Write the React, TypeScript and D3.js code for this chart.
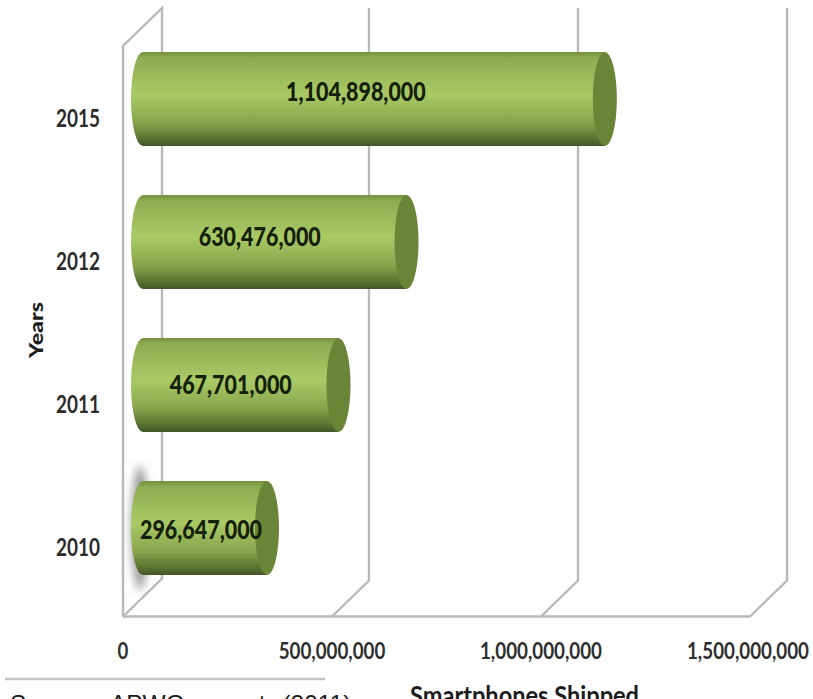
import React from "react";
import * as d3 from "d3";

const years = ["2015", "2012", "2011", "2010"];
const shipped = [1104898000, 630476000, 467701000, 296647000];
const axisTicks = [0, 500000000, 1000000000, 1500000000];
const xTitle = "Smartphones Shipped";
const yTitle = "Years";
const sourceNote = "Source: APWG report (2011)";

// Hand placement of the value labels relative to the middle of each bar.
const labelShiftX = [-18, -15, -10, -4];
const labelShiftY = [-7, -5, 0, 2];

const WIDTH = 813;
const HEIGHT = 699;
const DEPTH_X = 38;
const DEPTH_Y = 38;
const FLOOR_Y = 616.5;
const TOP_Y = 46;
const FRONT_X0 = 123;
const FRONT_X1 = 750;

// Front-plane value scale; the back wall is the same scale shifted by the depth.
const x = d3.scaleLinear().domain([0, 1500000000]).range([FRONT_X0, FRONT_X1]);
const y = d3.scaleBand<string>().domain(years).range([52, 575]).paddingInner(0.3427).paddingOuter(0);
const fmt = d3.format(",");
const FONT = "Lato, 'Open Sans', sans-serif";
const GRID = "#b9b9b9";
const RX = 12;

// Lato runs wider than the condensed bold face of the labels, so text is fitted to this width.
function fitted(s: string, size: number, squeeze: number) {
  const digits = s.replace(/\D/g, "").length;
  const commas = s.length - digits;
  return (digits * 0.58 + commas * 0.25) * size * squeeze;
}

function Cylinder({ year, value, i }: { year: string; value: number; i: number }) {
  const top = y(year)!;
  const h = y.bandwidth();
  const x0 = x(0) + DEPTH_X / 2 + 1;
  const x1 = x(value) + DEPTH_X / 2 + 1;
  const ry = h / 2;
  const body = `M${x1},${top}L${x0},${top}A${RX},${ry} 0 0 0 ${x0},${top + h}L${x1},${top + h}Z`;
  const label = fmt(value);
  return (
    <g>
      <path d={body} fill="url(#barBody)" />
      <ellipse cx={x1} cy={top + ry} rx={RX} ry={ry} fill="#6a8438" />
      <text
        x={(x0 + x1) / 2 + labelShiftX[i]}
        y={top + ry + labelShiftY[i]}
        dy="0.35em"
        textAnchor="middle"
        fontFamily={FONT}
        fontWeight={900}
        fontSize={27}
        fill="#14200c"
        textLength={fitted(label, 27, 0.79)}
        lengthAdjust="spacingAndGlyphs"
      >
        {label}
      </text>
    </g>
  );
}

export default function App() {
  return (
    <svg
      width={WIDTH}
      height={HEIGHT}
      viewBox={`0 0 ${WIDTH} ${HEIGHT}`}
      style={{ position: "absolute", left: 0, top: 0, background: "#fff" }}
    >
      <defs>
        <linearGradient id="barBody" x1="0" y1="0" x2="0" y2="1">
          <stop offset="0" stopColor="#76903f" />
          <stop offset="0.06" stopColor="#8eab51" />
          <stop offset="0.45" stopColor="#aaca66" />
          <stop offset="0.75" stopColor="#87a44c" />
          <stop offset="0.93" stopColor="#58702f" />
          <stop offset="1" stopColor="#42552a" />
        </linearGradient>
        <filter id="smudge" x="-150%" y="-20%" width="400%" height="140%">
          <feGaussianBlur stdDeviation="4" />
        </filter>
      </defs>

      {/* Side wall and floor of the 3D plot box */}
      <g fill="none" stroke={GRID} strokeWidth={2.4}>
        <path d={`M${FRONT_X0},${FLOOR_Y}V${TOP_Y}L${FRONT_X0 + DEPTH_X + 1},${TOP_Y - DEPTH_Y}V${FLOOR_Y - DEPTH_Y}L${FRONT_X0},${FLOOR_Y}`} />
        <line x1={FRONT_X0} x2={FRONT_X1} y1={FLOOR_Y} y2={FLOOR_Y} />
        {axisTicks.slice(1).map((t) => (
          <path key={t} d={`M${x(t)},${FLOOR_Y}L${x(t) + DEPTH_X - 1},${FLOOR_Y - DEPTH_Y + 2}V${TOP_Y - DEPTH_Y}`} />
        ))}
      </g>

      {/* Grey smudge behind the lowest bar */}
      <ellipse cx={140} cy={528} rx={9} ry={62} fill="#858585" opacity={0.8} filter="url(#smudge)" />

      {years.map((yr, i) => (
        <Cylinder key={yr} year={yr} value={shipped[i]} i={i} />
      ))}

      {/* Category labels */}
      <g fontFamily={FONT} fontWeight={700} fontSize={24} fill="#2b2b2b" textAnchor="middle">
        {years.map((yr) => (
          <text
            key={yr}
            x={78}
            y={y(yr)! + y.bandwidth() / 2 + 28}
            textLength={44}
            lengthAdjust="spacingAndGlyphs"
          >
            {yr}
          </text>
        ))}
      </g>

      {/* Value axis labels */}
      <g fontFamily={FONT} fontWeight={700} fontSize={23} fill="#2f2f2f" textAnchor="middle">
        {axisTicks.map((t) => (
          <text
            key={t}
            x={x(t) - (t === 1500000000 ? 2 : 0)}
            y={659}
            textLength={fitted(fmt(t), 23, 0.81)}
            lengthAdjust="spacingAndGlyphs"
          >
            {fmt(t)}
          </text>
        ))}
      </g>

      <text
        transform="translate(43,330) rotate(-90)"
        textAnchor="middle"
        fontFamily={FONT}
        fontWeight={900}
        fontSize={18}
        fill="#1c1c1c"
        textLength={56}
        lengthAdjust="spacingAndGlyphs"
      >
        {yTitle}
      </text>
      <text
        x={524.5}
        y={705}
        textAnchor="middle"
        fontFamily={FONT}
        fontWeight={700}
        fontSize={26}
        fill="#1c1c1c"
        textLength={229}
        lengthAdjust="spacingAndGlyphs"
      >
        {xTitle}
      </text>

      <line x1={5} x2={325} y1={679} y2={679} stroke="#c4c4c4" strokeWidth={2.4} />
      <text x={10} y={712} fontFamily="'Liberation Sans', Arial, sans-serif" fontSize={24.5} wordSpacing={10} fill="#1a1a1a">
        {sourceNote}
      </text>
    </svg>
  );
}
